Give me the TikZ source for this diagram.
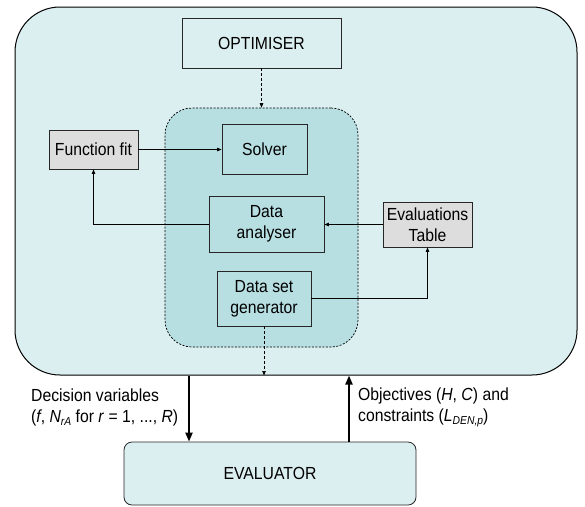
\documentclass[tikz,border=0pt]{standalone}
\usepackage{fontspec}
\setmainfont[FakeStretch=0.9]{Liberation Sans}
\usetikzlibrary{arrows.meta}
\definecolor{outerfill}{HTML}{DBEEF0}
\definecolor{innerfill}{HTML}{B7DFE2}
\definecolor{grayfill}{HTML}{DDDDDD}
\tikzset{
  txt/.style={font=\fontsize{17.5}{21}\selectfont, align=center},
  box/.style={txt, draw=black!85, line width=0.8pt, inner sep=0pt},
  lightbox/.style={box, fill=outerfill},
  darkbox/.style={box, fill=innerfill},
  graybox/.style={box, fill=grayfill},
  arr/.style={line width=0.7pt, -{Triangle[length=4.5pt,width=3.5pt]}},
  dasharr/.style={arr, dash pattern=on 3pt off 2pt},
  bigarr/.style={line width=2pt, -{Triangle[length=9pt,width=7pt]}},
}
\begin{document}
\begin{tikzpicture}[x=1pt,y=-1pt]
\useasboundingbox (0,0) rectangle (585,506);
\node[draw=black, line width=1pt, fill=outerfill, rounded corners=45pt,
      minimum width=562pt, minimum height=368pt] (outer) at (296,191) {};
\node[draw=black, line width=0.7pt, dash pattern=on 2pt off 1.5pt, fill=innerfill, rounded corners=27pt,
      minimum width=193pt, minimum height=239pt] (inner) at (261.5,227.5) {};
\node[lightbox, minimum width=159pt, minimum height=50pt] (opt) at (261.5,43) {OPTIMISER};
\node[graybox, minimum width=89pt, minimum height=39pt] (ff) at (93.5,149.5) {Function fit};
\node[darkbox, minimum width=85pt, minimum height=50pt] (solver) at (264.5,149) {Solver};
\node[darkbox, minimum width=115pt, minimum height=56pt] (da) at (266.5,224) {Data\\analyser};
\node[graybox, minimum width=89pt, minimum height=45pt] (et) at (427.5,224.5) {Evaluations\\Table};
\node[darkbox, minimum width=94pt, minimum height=55pt] (dsg) at (264,298.5) {Data set\\generator};
\node[lightbox, rounded corners=8pt, minimum width=292pt, minimum height=63pt] (ev) at (270,473.5) {EVALUATOR};

\draw[dasharr] (opt.south) -- (opt.south |- inner.north);
\draw[arr] (ff.east) -- (ff.east -| solver.west);
\draw[arr] (da.west) -| (ff.south);
\draw[arr] (et.west) -- (et.west -| da.east);
\draw[arr] (dsg.east) -| (et.south);
\draw[dasharr] (dsg.south) -- (dsg.south |- outer.south);

\coordinate (lx) at (189,0);
\coordinate (rx) at (349,0);
\draw[bigarr] (lx |- outer.south) -- (lx |- ev.north);
\draw[bigarr] (rx |- ev.north) -- (rx |- outer.south);

\node[txt, align=left, anchor=west, inner sep=0pt] (ldv) at (31,407.5)
  {Decision variables\\(\textit{f}, \textit{N}\raisebox{-0.35ex}{\fontsize{11.5}{11.5}\selectfont\textit{rA}} for \textit{r} = 1, ..., \textit{R})};
\node[txt, align=left, anchor=west, inner sep=0pt] (lobj) at (358,407.5)
  {Objectives (\textit{H}, \textit{C}) and\\constraints (\textit{L}\raisebox{-0.35ex}{\fontsize{11.5}{11.5}\selectfont\textit{DEN,p}})};
\end{tikzpicture}
\end{document}
